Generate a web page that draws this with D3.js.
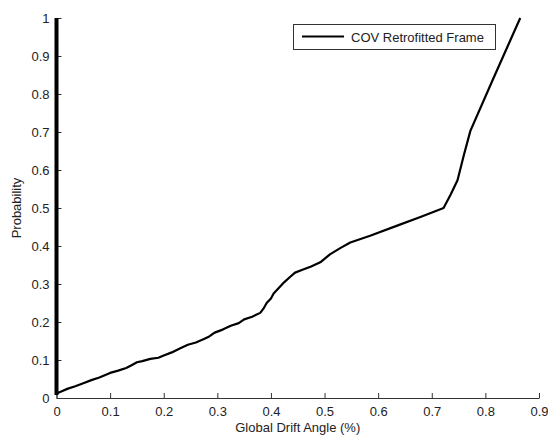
<!DOCTYPE html>
<html>
<head>
<meta charset="utf-8">
<script src="https://cdn.jsdelivr.net/npm/d3@7"></script>
<style>
  body { margin: 0; background: #fff; }
  text { font-family: "Liberation Sans", Arial, sans-serif; }
</style>
</head>
<body>
<script>
// cumulative probability of global drift angle
var driftX = [0, 0.01, 0.02, 0.035, 0.05, 0.065, 0.08, 0.1, 0.115, 0.13, 0.14, 0.15,
  0.16, 0.175, 0.19, 0.2, 0.215, 0.23, 0.245, 0.26, 0.275, 0.285, 0.295, 0.31,
  0.325, 0.34, 0.35, 0.365, 0.38, 0.386, 0.392, 0.4, 0.405, 0.415, 0.425, 0.436,
  0.445, 0.46, 0.475, 0.492, 0.51, 0.53, 0.548, 0.585, 0.638, 0.68, 0.722, 0.735,
  0.748, 0.76, 0.772, 0.814, 0.865];
var probY = [0.012, 0.018, 0.024, 0.031, 0.039, 0.047, 0.054, 0.066, 0.072, 0.079, 0.086, 0.094,
  0.097, 0.103, 0.106, 0.112, 0.12, 0.13, 0.14, 0.146, 0.155, 0.162, 0.172, 0.18,
  0.19, 0.197, 0.207, 0.214, 0.224, 0.235, 0.25, 0.262, 0.275, 0.29, 0.305, 0.319,
  0.33, 0.338, 0.346, 0.357, 0.378, 0.395, 0.409, 0.427, 0.455, 0.477, 0.5, 0.535,
  0.573, 0.64, 0.703, 0.838, 1.0];
// vertical run of samples sitting at zero drift
var zeroX = [0, 0];
var zeroY = [1, 0.008];

var xTicks = [0, 0.1, 0.2, 0.3, 0.4, 0.5, 0.6, 0.7, 0.8, 0.9];
var yTicks = [0, 0.1, 0.2, 0.3, 0.4, 0.5, 0.6, 0.7, 0.8, 0.9, 1];
var seriesName = "COV Retrofitted Frame";

var width = 548, height = 435;

var svg = d3.select("body").append("svg")
    .attr("width", width)
    .attr("height", height);

var x = d3.scaleLinear().domain([0, 0.9]).range([56.5, 539]);
var y = d3.scaleLinear().domain([0, 1]).range([398, 18]);

// axes, ticks pointing inward
var xAxis = svg.append("g")
    .attr("transform", "translate(0," + y(0) + ")")
    .call(d3.axisBottom(x).tickValues(xTicks).tickSizeInner(-5).tickSizeOuter(0)
      .tickPadding(8.5).tickFormat(function(d) { return d3.format("")(+d.toFixed(1)); }));

var yAxis = svg.append("g")
    .attr("transform", "translate(" + x(0) + ",0)")
    .call(d3.axisLeft(y).tickValues(yTicks).tickSizeInner(-5).tickSizeOuter(0)
      .tickPadding(7).tickFormat(function(d) { return d3.format("")(+d.toFixed(1)); }));

[xAxis, yAxis].forEach(function(g) {
  g.selectAll("path, line").attr("stroke", "#333");
  g.selectAll("text").attr("fill", "#222").style("font-size", "13px");
});

// data lines
var pts = driftX.map(function(d, i) { return [d, probY[i]]; });
var zeroPts = zeroX.map(function(d, i) { return [d, zeroY[i]]; });
var line = d3.line()
    .x(function(d) { return x(d[0]); })
    .y(function(d) { return y(d[1]); });

svg.append("path")
    .datum(zeroPts)
    .attr("fill", "none")
    .attr("stroke", "#000")
    .attr("stroke-width", 4)
    .attr("d", line);

svg.append("path")
    .datum(pts)
    .attr("fill", "none")
    .attr("stroke", "#000")
    .attr("stroke-width", 2.2)
    .attr("stroke-linejoin", "round")
    .attr("d", line);

// axis labels
svg.append("text")
    .attr("x", (x(0) + x(0.9)) / 2)
    .attr("y", 432)
    .attr("text-anchor", "middle")
    .attr("fill", "#222")
    .style("font-size", "13px")
    .text("Global Drift Angle (%)");

svg.append("text")
    .attr("transform", "translate(21," + ((y(0) + y(1)) / 2) + ") rotate(-90)")
    .attr("text-anchor", "middle")
    .attr("fill", "#222")
    .style("font-size", "13px")
    .text("Probability");

// legend
var legend = svg.append("g");
legend.append("rect")
    .attr("x", 293.5).attr("y", 24.5)
    .attr("width", 202).attr("height", 25)
    .attr("fill", "#fff")
    .attr("stroke", "#333");
legend.append("line")
    .attr("x1", 302).attr("x2", 344)
    .attr("y1", 36.5).attr("y2", 36.5)
    .attr("stroke", "#000")
    .attr("stroke-width", 2.2);
legend.append("text")
    .attr("x", 351)
    .attr("y", 41.5)
    .attr("fill", "#222")
    .style("font-size", "13px")
    .text(seriesName);
</script>
</body>
</html>
